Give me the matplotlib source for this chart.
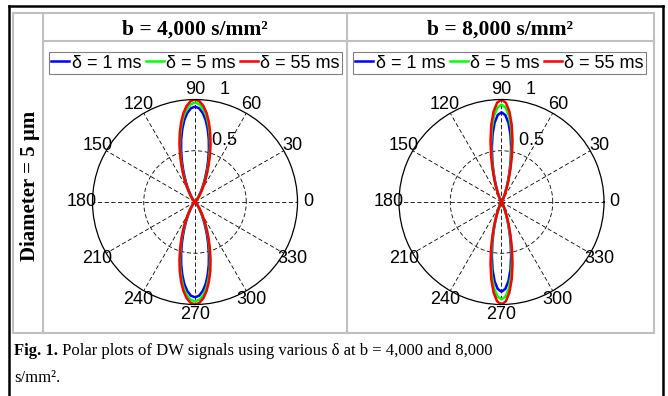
import numpy as np
import matplotlib
matplotlib.use("Agg")
import matplotlib.pyplot as plt

# ---------------- data ----------------
angles_q1 = [0, 10, 20, 30, 40, 45, 50, 55, 60, 62.5, 65, 67.5, 70, 72.5, 75,
             77.5, 80, 82.5, 85, 87.5, 90]

# b = 4,000 s/mm^2
b4000_d1 = [0.0002, 0.0002, 0.0005, 0.0015, 0.006, 0.0126, 0.027, 0.055, 0.108, 0.149,
            0.200, 0.264, 0.340, 0.428, 0.523, 0.622, 0.717, 0.804, 0.871, 0.915, 0.93]
b4000_d5 = [0.0003, 0.0004, 0.0009, 0.0024, 0.0089, 0.0178, 0.0355, 0.070, 0.131, 0.177,
            0.233, 0.301, 0.380, 0.470, 0.567, 0.667, 0.761, 0.847, 0.913, 0.955, 0.97]
b4000_d55 = [0.0003, 0.0004, 0.0009, 0.0025, 0.0092, 0.0183, 0.0366, 0.072, 0.135, 0.182,
             0.240, 0.310, 0.392, 0.485, 0.585, 0.688, 0.785, 0.873, 0.941, 0.985, 1.0]

# b = 8,000 s/mm^2
b8000_d1 = [0.0, 0.0, 0.0, 0.0, 0.0001, 0.0003, 0.0011, 0.0046, 0.016, 0.029,
            0.050, 0.084, 0.135, 0.206, 0.299, 0.414, 0.540, 0.667, 0.775, 0.849, 0.875]
b8000_d5 = [0.0, 0.0, 0.0, 0.0, 0.0001, 0.0003, 0.0012, 0.0049, 0.0174, 0.031,
            0.0545, 0.091, 0.146, 0.223, 0.325, 0.449, 0.586, 0.724, 0.842, 0.922, 0.95]
b8000_d55 = [0.0, 0.0, 0.0, 0.0, 0.0001, 0.0003, 0.0013, 0.0052, 0.0183, 0.033,
             0.0574, 0.096, 0.154, 0.235, 0.342, 0.473, 0.617, 0.762, 0.886, 0.970, 1.0]

series_labels = ["\u03b4 = 1 ms", "\u03b4 = 5 ms", "\u03b4 = 55 ms"]
series_colors = ["#0000ff", "#00ff00", "#ff0000"]
theta_ticks = list(range(0, 360, 30))
r_ticks = [0.5, 1]
col_headers = ["b = 4,000 s/mm\u00b2", "b = 8,000 s/mm\u00b2"]
row_header = "Diameter = 5 \u00b5m"
caption_bold = "Fig. 1."
caption_rest = " Polar plots of DW signals using various \u03b4 at b = 4,000 and 8,000"
caption_line2 = "s/mm\u00b2."

panels = [
    [b4000_d1, b4000_d5, b4000_d55],
    [b8000_d1, b8000_d5, b8000_d55],
]

# ---------------- figure ----------------
W, H = 668, 396
fig = plt.figure(figsize=(W / 100, H / 100), dpi=100)
fig.patch.set_facecolor("white")

bg = fig.add_axes([0, 0, 1, 1])
bg.set_xlim(0, W)
bg.set_ylim(H, 0)
bg.axis("off")

# frame lines
blk = dict(color="black", lw=1.8, solid_capstyle="projecting")
bg.plot([8.7, 8.7], [H, 5.8], **blk)
bg.plot([8.7, 663], [5.8, 5.8], **blk)
bg.plot([663, 663], [5.8, H], **blk)

gry = dict(color="#c0c0c0", lw=1.5, solid_capstyle="projecting")
bg.plot([13, 654], [13, 13], **gry)
bg.plot([13, 654], [332.5, 332.5], **gry)
bg.plot([13, 13], [13, 332.5], **gry)
bg.plot([654, 654], [13, 332.5], **gry)
bg.plot([43, 654], [40.5, 40.5], **gry)
bg.plot([43, 43], [13, 332.5], **gry)
bg.plot([347, 347], [13, 332.5], **gry)

serif = ["Liberation Serif", "DejaVu Serif"]
sans = ["Liberation Sans", "DejaVu Sans"]

# headers
for txt, xc in zip(col_headers, [195.3, 500]):
    bg.text(xc, 34.7, txt, ha="center", va="baseline", fontsize=15.5,
            fontweight="bold", family=serif)
bg.text(30, 186, row_header, ha="center", va="center", rotation=90,
        fontsize=15, fontweight="bold", family=serif)

# caption
t1 = bg.text(14, 355, caption_bold, ha="left", va="baseline", fontsize=12,
             fontweight="bold", family=serif)
bg.annotate(caption_rest, xy=(1, 0), xycoords=t1, ha="left", va="bottom",
            fontsize=12, family=serif)
bg.text(14, 382, caption_line2, ha="left", va="baseline", fontsize=12,
        family=serif)

# polar panels
centers = [(195, 202), (501.5, 202)]
legend_centers = [(195.5, 63), (499.5, 63)]
R = 102.5

A = np.array(angles_q1)
theta_full = np.deg2rad(np.concatenate([A, 180 - A[::-1], 180 + A, 360 - A[::-1]]))

for (cx, cy), (lx, ly), series in zip(centers, legend_centers, panels):
    ax = fig.add_axes([(cx - R) / W, (H - cy - R) / H, 2 * R / W, 2 * R / H],
                      projection="polar")
    ax.set_facecolor("none")
    handles = []
    for vals, col, lab in zip(series, series_colors, series_labels):
        v = np.array(vals)
        r_full = np.concatenate([v, v[::-1], v, v[::-1]])
        h, = ax.plot(theta_full, r_full, color=col, lw=1.8, label=lab)
        handles.append(h)
    ax.set_ylim(0, 1)
    ax.set_rticks([r_ticks[0]])
    ax.set_yticklabels([])
    ax.set_thetagrids(theta_ticks, labels=[str(t) for t in theta_ticks])
    ax.grid(True, color="black", linestyle=(0, (5, 3)), linewidth=0.6)
    ax.spines["polar"].set_linewidth(0.9)
    ax.spines["polar"].set_color("black")
    ax.tick_params(axis="x", pad=-3, labelsize=13)
    for lbl in ax.get_xticklabels():
        lbl.set_family(sans)
    for rv in r_ticks:
        ax.text(np.deg2rad(82), rv + 0.025, "  " + ("%g" % rv), ha="left",
                va="bottom", fontsize=13, family=sans)

    leg = fig.legend(handles=handles, loc="center",
                     bbox_to_anchor=(lx / W, 1 - ly / H), ncol=3,
                     prop={"family": sans, "size": 13},
                     handlelength=1.0, handletextpad=0.12, columnspacing=0.25,
                     borderpad=0.15, borderaxespad=0.0, fancybox=False,
                     framealpha=1, edgecolor="#808080")
    leg.get_frame().set_linewidth(0.8)

fig.savefig("out.png", dpi=100)
